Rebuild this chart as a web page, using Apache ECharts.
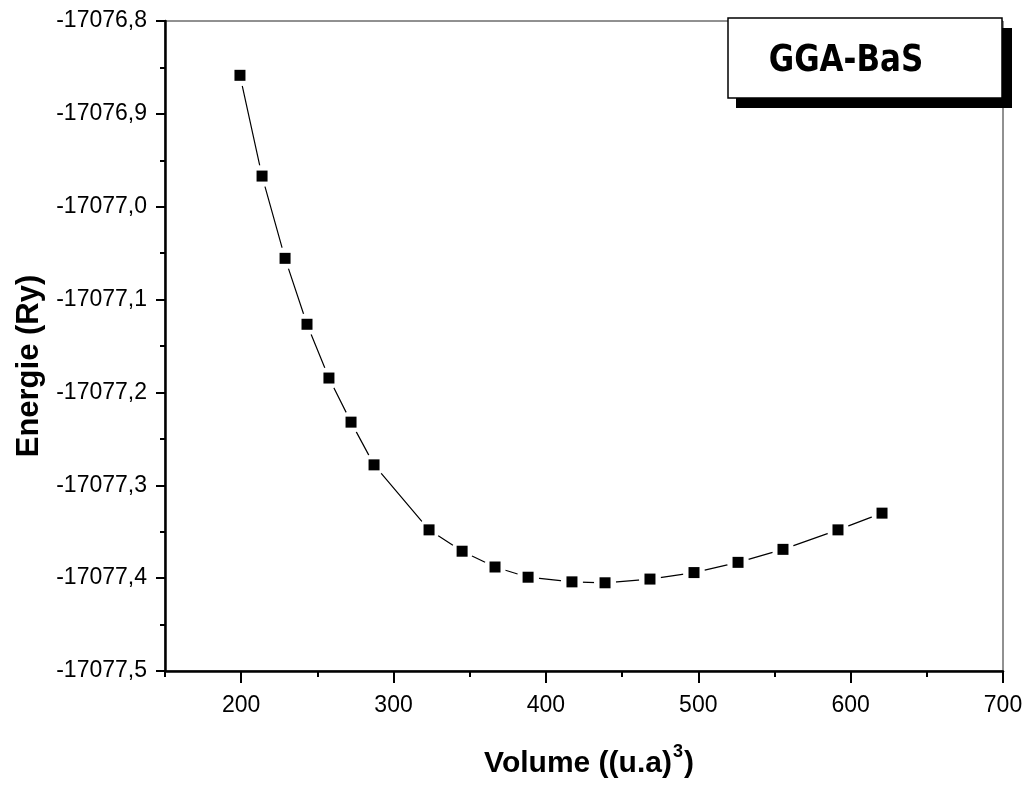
<!DOCTYPE html>
<html>
<head>
<meta charset="utf-8">
<script src="https://cdn.jsdelivr.net/npm/echarts@6/dist/echarts.min.js"></script>
<style>html,body{margin:0;padding:0;background:#fff;}#c{width:1031px;height:791px;}</style>
</head>
<body>
<div id="c"></div>
<script>
// Data
const volume = [199.2, 213.7, 228.8, 243.2, 257.6, 272.1, 287.2, 323.3, 345.0, 366.6, 388.3, 417.1, 438.8, 468.3, 497.2, 526.1, 555.6, 591.7, 620.6];
const energy = [-17076.8585, -17076.967, -17077.0556, -17077.1266, -17077.1845, -17077.232, -17077.278, -17077.348, -17077.371, -17077.388, -17077.399, -17077.404, -17077.405, -17077.401, -17077.394, -17077.383, -17077.369, -17077.348, -17077.330];
const xMajorTicks = [200, 300, 400, 500, 600, 700];
const xMinorTicks = [150, 250, 350, 450, 550, 650];
const legendLabel = 'GGA-BaS';

const pts = volume.map((v, i) => [v, energy[i]]);
const font = "'Liberation Sans', Arial, sans-serif";

const chart = echarts.init(document.getElementById('c'), null, {renderer: 'canvas'});
chart.setOption({
  animation: false,
  backgroundColor: '#fff',
  grid: {left: 165, right: 28, top: 21, bottom: 120, show: true, borderColor: '#222', borderWidth: 1, backgroundColor: 'transparent'},
  xAxis: [{
    type: 'value', min: 150, max: 700, position: 'bottom',
    axisLine: {show: true, onZero: false, lineStyle: {color: '#000', width: 2.5}},
    axisTick: {show: true, customValues: xMajorTicks, length: 12, lineStyle: {color: '#000', width: 2}},
    axisLabel: {customValues: xMajorTicks, margin: 23, color: '#000', fontSize: 23, fontFamily: font},
    splitLine: {show: false},
    name: '{a|Volume ((u.a)}{b|3}{a|)}',
    nameLocation: 'middle', nameGap: 72,
    nameTextStyle: {
      padding: [0, 0, 0, 10],
      rich: {
        a: {fontSize: 30, fontWeight: 'bold', fontFamily: font, color: '#000', lineHeight: 42},
        b: {fontSize: 18, fontWeight: 'bold', fontFamily: font, color: '#000', lineHeight: 18, verticalAlign: 'top', padding: [0, 1, 0, 1]}
      }
    }
  }, {
    type: 'value', min: 150, max: 700, position: 'bottom',
    axisLine: {show: false, onZero: false},
    axisTick: {show: true, customValues: xMinorTicks, length: 6, lineStyle: {color: '#000', width: 2}},
    axisLabel: {show: false},
    splitLine: {show: false}
  }],
  yAxis: [{
    type: 'value', min: -17077.5, max: -17076.8, interval: 0.1,
    axisLine: {show: true, onZero: false, lineStyle: {color: '#000', width: 2.5}},
    axisTick: {show: true, length: 9, lineStyle: {color: '#000', width: 2}},
    minorTick: {show: true, splitNumber: 2, length: 5, lineStyle: {color: '#000', width: 2}},
    axisLabel: {margin: 18, color: '#000', fontSize: 23, fontFamily: font,
      formatter: v => v.toFixed(1).replace('.', ',')},
    splitLine: {show: false},
    name: 'Energie (Ry)', nameLocation: 'middle', nameGap: 118,
    nameTextStyle: {fontSize: 31, fontWeight: 'bold', fontFamily: font, color: '#000', padding: [0, 40, 0, 0]}
  }],
  series: [{
    type: 'line', data: pts, symbol: 'none', z: 2,
    lineStyle: {color: '#000', width: 1.2}
  }, {
    type: 'scatter', data: pts, symbol: 'circle', symbolSize: 22, z: 3,
    itemStyle: {color: '#fff', opacity: 1}, silent: true
  }, {
    type: 'scatter', data: pts, symbol: 'rect', symbolSize: 11, z: 4,
    itemStyle: {color: '#000', opacity: 1}
  }],
  graphic: [
    {type: 'rect', z: 100, shape: {x: 736, y: 28, width: 276, height: 80}, style: {fill: '#000'}},
    {type: 'rect', z: 101, shape: {x: 728, y: 18, width: 274, height: 80}, style: {fill: '#fff', stroke: '#000', lineWidth: 1.5}},
    {type: 'text', z: 102, x: 846, y: 61, scaleY: 1.2, style: {text: legendLabel, fill: '#000', font: "bold 31px 'DejaVu Sans', sans-serif", align: 'center', verticalAlign: 'middle'}}
  ]
});
</script>
</body>
</html>
